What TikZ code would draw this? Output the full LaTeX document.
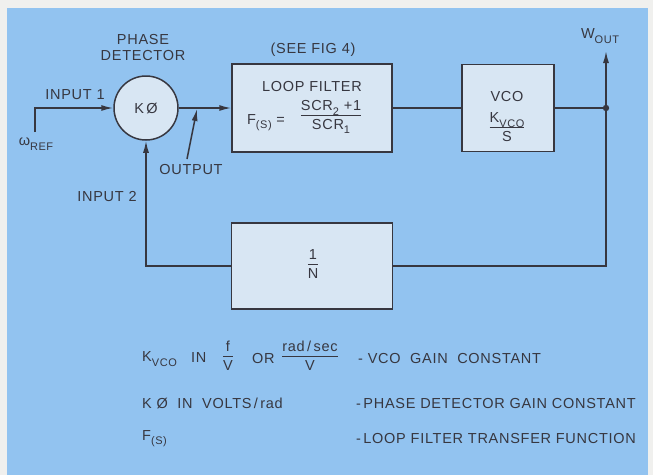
\documentclass[tikz,border=0pt]{standalone}
\usepackage{fontspec}
\setmainfont{Liberation Sans}[LetterSpace=5]
\usetikzlibrary{arrows.meta}
\definecolor{bgblue}{RGB}{146,195,240}
\definecolor{boxfill}{RGB}{216,230,243}
\definecolor{ink}{RGB}{55,55,64}
\definecolor{margin}{RGB}{240,240,238}
\newcommand{\dn}[1]{\raisebox{-0.55ex}{\fontsize{11}{11}\selectfont #1}}
\newcommand{\fr}[2]{\begin{tabular}{@{}c@{}}#1\\[-1pt]\hline\rule{0pt}{13.5pt}#2\end{tabular}}
\setlength{\arrayrulewidth}{1.3pt}
\begin{document}
\begin{tikzpicture}[x=1pt,y=-1pt,
  every node/.style={text=ink, font=\fontsize{14.5}{16}\selectfont, inner sep=0pt},
  blk/.style={draw=ink, fill=boxfill, line width=1.5pt},
  wire/.style={draw=ink, line width=1.5pt},
  arr/.style={wire, -{Latex[length=12pt,width=6pt]}},
  lbl/.style={align=center}]
\useasboundingbox (0,0) rectangle (653,475);
\fill[margin] (0,0) rectangle (653,475);
\fill[bgblue] (7,8) rectangle (648,475);
% blocks
\node[blk, circle, minimum size=64pt] (pd) at (146,108) {K\,Ø};
\node[blk, minimum width=160pt, minimum height=88pt] (lf) at (312,108) {};
\node[blk, minimum width=92pt, minimum height=87pt] (vco) at (508,108) {};
\node[blk, minimum width=161pt, minimum height=86pt] (nb) at (312,266) {};
% block texts
\node (lft) at (312,87) {LOOP FILTER};
\node (fs) at (266,123) {F\dn{(S)} =};
\node (lffr) at (331,117) {\fr{SCR\dn{2} +1}{SCR\dn{1}}};
\node (vcot) at (507,97) {VCO};
\node (vcofr) at (507,129) {\fr{K\dn{VCO}}{S}};
\node (nfr) at (313,266) {\fr{1}{N}};
% labels
\node[lbl] (pdl) at (143,48) {PHASE\\DETECTOR};
\node (see) at (313,50) {(SEE FIG 4)};
\node (in1) at (75,95) {INPUT 1};
\node (wref) at (36,144) {ω\dn{REF}};
\node (outl) at (191,170) {OUTPUT};
\node (in2) at (107,197) {INPUT 2};
\node (wout) at (600,36) {W\dn{OUT}};
% coordinates
\coordinate (src) at (35,132);
\coordinate (dot) at (606,108);
\coordinate (top) at (606,51);
\coordinate (ptail) at (187,159);
\coordinate (ptip) at (197,109);
% connectors
\draw[arr] (src) |- (pd.west);
\draw[arr] (pd.east) -- (lf.west);
\draw[arr] (ptail) -- (ptip);
\draw[wire] (lf.east) -- (vco.west);
\draw[wire] (vco.east) -- (dot);
\draw[arr] (dot) -- (top);
\draw[wire] (dot) |- (nb.east);
\draw[arr] (nb.west) -| (pd.south);
\fill[ink] (dot) circle (3.2pt);
% legend
\node[anchor=west] (l1a) at (142,359) {K\dn{VCO}};
\node[anchor=west] (l1b) at (191,358) {IN};
\node (l1c) at (228,358) {\fr{\,f\,}{V}};
\node[anchor=west] (l1d) at (252,358) {OR};
\node (l1e) at (310,358) {\fr{rad\,/\,sec}{V}};
\node[anchor=west] (l1f) at (358,358) {- VCO\ \ GAIN\ \ CONSTANT};
\node[anchor=west] (l2a) at (142,403) {K\ Ø\ \ IN\ \ VOLTS\,/\,rad};
\node[anchor=west] (l2b) at (356,403) {-\,PHASE DETECTOR GAIN CONSTANT};
\node[anchor=west] (l3a) at (142,439) {F\dn{(S)}};
\node[anchor=west] (l3b) at (356,438) {-\,LOOP FILTER TRANSFER FUNCTION};
\end{tikzpicture}
\end{document}
